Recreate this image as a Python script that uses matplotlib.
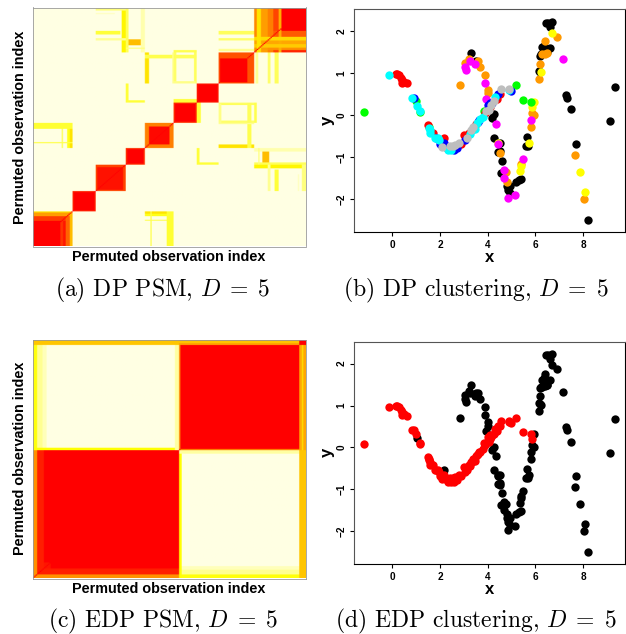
import numpy as np
import matplotlib
matplotlib.use("Agg")
import matplotlib.pyplot as plt
from matplotlib.colors import LinearSegmentedColormap

plt.rcParams['font.family'] = ['Liberation Sans', 'DejaVu Sans']
plt.rcParams['mathtext.fontset'] = 'cm'

N_OBS = 200

# PSM (a): diagonal blocks, their cores, then symmetric patches (i0, i1, j0, j1, value)
dp_blocks = [(29, 46, 0.93), (46, 68, 0.85), (68, 82, 0.9), (82, 103, 0.72),
             (103, 120, 0.9), (120, 136, 0.95), (136, 162, 0.82)]
dp_cores = [(30, 45, 1.0), (47, 66, 0.96), (69, 81, 1.0), (85, 100, 0.98),
            (104, 119, 1.0), (121, 135, 1.0), (137, 157, 1.0)]
dp_patches = [
    (27, 29, 82, 103, 0.42), (25, 27, 82, 103, 0.3), (21, 22, 82, 103, 0.2), (0, 29, 86, 87, 0.22),
    (0, 29, 98, 103, 0.26), (46, 64, 177, 180, 0.25), (65, 68, 162, 200, 0.36), (46, 68, 197, 200, 0.15),
    (46, 68, 172, 174, 0.12), (46, 60, 194, 195, 0.05),
    (68, 82, 168, 173, 0.55), (68, 70, 162, 200, 0.2), (79, 82, 162, 200, 0.08),
    (68, 82, 165, 166, 0.15), (68, 70, 120, 136, 0.25), (68, 82, 120, 122, 0.25),
    (82, 85, 136, 162, 0.42), (82, 103, 157, 160, 0.22), (102, 103, 136, 162, 0.12),
    (103, 105, 136, 162, 0.18), (118, 120, 136, 162, 0.22), (103, 120, 136, 138, 0.14),
    (119, 120, 136, 164, 0.18), (103, 120, 157, 160, 0.2), (103, 120, 162, 164, 0.22),
    (103, 120, 120, 123, 0.25), (136, 162, 172, 174, 0.18), (136, 162, 177, 180, 0.2),
    (136, 162, 163, 165, 0.12),
]
# block corners with stripes, value of a cell is the lower of its row and column band
corner_a_rows = [(0, 21, 1.0), (21, 25, 0.87), (25, 28, 0.65), (28, 29, 0.42)]
corner_a_cols = [(0, 20, 1.0), (20, 22, 0.88), (22, 24, 0.95), (24, 27, 0.78), (27, 29, 0.55)]
corner_b_rows = [(162, 164, 0.92), (164, 166, 0.68), (166, 169, 0.5), (169, 172, 0.62), (172, 175, 0.45),
                 (175, 180, 0.8), (180, 200, 1.0)]
corner_b_cols = [(162, 164, 0.7), (164, 167, 0.42), (167, 172, 0.65), (172, 176, 0.72), (176, 180, 0.85),
                 (180, 182, 0.6), (182, 200, 1.0)]

# PSM (c): two big blocks with edges
edp_blocks = [(0, 107, 1.0), (107, 200, 1.0)]
edp_patches = [
    (3, 10, 107, 196, 0.06), (3, 8, 0, 107, 0.93), (8, 13, 8, 13, 0.95),
    (0, 3, 0, 107, 0.68), (0, 3, 107, 195, 0.32), (3, 7, 109, 195, 0.12),
    (107, 109, 0, 107, 0.33), (107, 108, 108, 195, 0.72), (104, 107, 107, 195, 0.1),
    (195, 200, 0, 107, 0.52), (195, 197, 107, 195, 0.62), (197, 198, 107, 195, 0.45), (198, 200, 107, 195, 0.62),
]

# scatter points, one list per DP cluster colour
dp_black = [(3.3, 1.48), (3.5, 1.3), (4.2, -0.07), (4.25, 0.02), (4.28, -0.55), (4.5, -0.65), (4.45, -0.88),
            (4.5, -0.85), (4.6, -1.08), (4.55, -1.38), (4.8, -1.68), (4.85, -1.78), (4.95, -1.68), (4.95, -1.85),
            (5.2, -1.6), (5.3, -1.55), (5.4, -1.52), (5.6, -0.72), (5.65, -0.52), (5.7, -0.72), (6.15, 1.05),
            (6.2, 1.03), (6.2, 1.42), (6.25, 1.45), (6.3, 1.62), (6.35, 1.65), (6.5, 1.5), (6.6, 1.6), (6.45, 2.2),
            (6.55, 2.2), (6.6, 2.1), (6.7, 2.22), (7.3, 0.48), (7.32, 0.42), (7.5, 0.14), (7.7, -0.68), (8.2, -2.5),
            (9.15, -0.14), (9.35, 0.67)]
dp_orange = [(2.85, 0.71), (3.05, 1.25), (3.2, 1.35), (3.6, 1.3), (3.7, 1.15), (3.9, 0.97), (4.0, 0.6), (4.02, 0.52),
             (4.5, -0.9), (4.75, -1.35), (4.8, -1.6), (5.4, -1.15), (5.85, 0.05), (5.95, 0.0), (5.8, -0.27),
             (6.15, 0.87), (6.2, 1.23), (6.3, 1.45), (6.4, 1.47), (6.5, 1.48), (6.4, 1.76), (6.9, 1.87),
             (7.67, -0.95), (8.05, -2.0)]
dp_yellow = [(4.45, -0.65), (5.35, -1.33), (5.4, -1.2), (5.75, -0.65), (5.85, 0.2), (5.95, 0.32), (6.25, 1.02),
             (6.72, 1.97), (7.87, -1.36), (8.07, -1.82)]
dp_magenta = [(3.05, 1.15), (3.1, 1.08), (3.25, 1.3), (3.45, 1.22), (3.9, 0.77), (3.95, 0.4), (4.33, -0.2),
              (4.45, -0.68), (4.67, -1.3), (4.7, -1.5), (4.87, -1.97), (5.15, -1.89), (5.5, -1.05), (5.8, -0.12),
              (7.15, 1.33)]
dp_green = [(-1.2, 0.07), (5.2, 0.71), (5.5, 0.36), (5.8, 0.32), (1.0, 0.33), (1.18, 0.07), (1.55, -0.27), (3.85, 0.1)]
dp_red = [(0.15, 0.98), (0.2, 0.98), (0.28, 0.96), (0.35, 0.9), (0.4, 0.85), (0.42, 0.77), (0.5, 0.8), (0.6, 0.76),
          (1.5, -0.24), (2.18, -0.55), (3.0, -0.48), (2.9, -0.68), (4.4, 0.4), (2.2, -0.72), (1.7, -0.42), (2.3, -0.78),
          (3.1, -0.52), (3.2, -0.42), (3.5, -0.2), (3.9, 0.05), (4.1, 0.2), (4.35, 0.38), (4.5, 0.5)]
dp_blue = [(0.9, 0.42), (1.85, -0.55), (2.0, -0.68), (2.6, -0.82), (3.65, -0.12), (4.45, 0.5), (4.2, 0.3), (5.0, 0.58),
           (2.15, -0.65), (4.0, 0.25), (2.7, -0.78), (3.05, -0.58), (3.6, -0.15), (4.1, 0.3)]
dp_cyan = [(-0.15, 0.96), (0.83, 0.41), (1.05, 0.22), (1.15, 0.1), (1.55, -0.3), (1.58, -0.35), (1.6, -0.42),
           (1.8, -0.55), (1.9, -0.55), (1.95, -0.6), (2.35, -0.82), (2.45, -0.82), (3.35, -0.35), (3.45, -0.33),
           (3.55, -0.18), (3.7, -0.1), (3.8, -0.05), (4.3, 0.43), (4.9, 0.6), (3.25, -0.45)]
dp_gray = [(2.1, -0.75), (2.4, -0.73), (2.55, -0.73), (2.65, -0.7), (2.8, -0.66), (3.15, -0.55), (3.3, -0.35),
           (3.4, -0.27), (3.95, 0.1), (4.05, 0.13), (4.15, 0.25), (4.25, 0.33), (4.58, 0.62), (4.88, 0.63)]

dp_groups = [(dp_black, '#000000'), (dp_orange, '#FF9900'), (dp_yellow, '#FFFF00'), (dp_magenta, '#FF00FF'),
             (dp_green, '#00FF00'), (dp_red, '#FF0000'), (dp_blue, '#0000FF'), (dp_cyan, '#00FFFF'),
             (dp_gray, '#BEBEBE')]

# points that change side in the EDP partition
to_black = [(1.05, 0.22), (2.18, -0.55)]
to_red = [(5.85, 0.2)]
x_ticks = [0, 2, 4, 6, 8]
y_ticks = [-2, -1, 0, 1, 2]

heat = LinearSegmentedColormap.from_list('heat_r', ['#FFFFE3', '#FFFF00', '#FF9900', '#FF0000'])


def build_psm(blocks, cores, patches, corners=()):
    m = np.zeros((N_OBS, N_OBS))
    for a, b, v in blocks:
        m[a:b, a:b] = v
    for a, b, v in cores:
        m[a:b, a:b] = v
    for i0, i1, j0, j1, v in patches:
        m[i0:i1, j0:j1] = v
        m[j0:j1, i0:i1] = v
    for rows, cols in corners:
        for r0, r1, rv in rows:
            for c0, c1, cv in cols:
                m[r0:r1, c0:c1] = min(rv, cv)
    np.fill_diagonal(m, 1.0)
    return m


W, H = 626, 634
fig = plt.figure(figsize=(W / 100, H / 100), dpi=100)


def px_axes(x0, y0, x1, y1):
    return fig.add_axes([x0 / W, 1 - y1 / H, (x1 - x0) / W, (y1 - y0) / H])


def psm_panel(box, m, label_y, ylab_center):
    ax = px_axes(*box)
    ax.imshow(m, origin='lower', aspect='auto', cmap=heat, vmin=0, vmax=1, interpolation='bilinear')
    ax.set_xticks([])
    ax.set_yticks([])
    for s in ax.spines.values():
        s.set_linewidth(0.6)
        s.set_color('#999999')
    fig.text(169 / W, 1 - label_y / H, 'Permuted observation index', fontsize=10.4, fontweight='bold',
             ha='center', va='center')
    fig.text(20 / W, 1 - ylab_center / H, 'Permuted observation index', fontsize=10.4, fontweight='bold',
             ha='center', va='center', rotation=90)


def scatter_panel(box, groups):
    ax = px_axes(*box)
    for pts, col in groups:
        p = np.array(pts)
        ax.scatter(p[:, 0], p[:, 1], s=36, c=col, linewidths=0, zorder=3)
    ax.set_xlim(-1.608, 9.776)
    ax.set_ylim(-2.786, 2.524)
    ax.set_xticks(x_ticks)
    ax.set_yticks(y_ticks)
    ax.tick_params(length=3, width=0.8, pad=2.5, labelsize=7.2)
    for t in ax.get_xticklabels():
        t.set_fontweight('bold')
    for t in ax.get_yticklabels():
        t.set_fontweight('bold')
        t.set_rotation(90)
        t.set_va('center')
    ax.set_xlabel('x', fontsize=12, fontweight='bold', labelpad=0)
    ax.set_ylabel('y', fontsize=12, fontweight='bold', labelpad=1)
    for s in ax.spines.values():
        s.set_linewidth(0.8)
    ax.spines['left'].set_color('#555555')
    ax.spines['top'].set_color('#555555')
    return ax


def caption(x, y, txt):
    fig.text(x / W, 1 - y / H, txt, fontsize=17, family='cmr10', ha='center', va='center')


psm_panel((33, 7.5, 305.7, 246.5),
          build_psm(dp_blocks, dp_cores, dp_patches,
                    [(corner_a_rows, corner_a_cols), (corner_b_rows, corner_b_cols)]), 257, 127)
psm_panel((33, 339.7, 305.7, 578.5), build_psm(edp_blocks, [], edp_patches), 589, 458)

scatter_panel((354, 9.3, 625.3, 232.3), dp_groups)

edp_red = dp_green + dp_red + dp_blue + dp_cyan + dp_gray
edp_red = [p for p in edp_red if p not in to_black] + to_red
edp_black = dp_black + dp_orange + dp_yellow + dp_magenta + to_black
edp_black = [p for p in edp_black if p not in to_red]
scatter_panel((354, 341.7, 625.3, 564), [(edp_black, '#000000'), (edp_red, '#FF0000')])

caption(162.5, 290, r'(a) DP PSM, $D\;=\;5$')
caption(476, 290, r'(b) DP clustering, $D\;=\;5$')
caption(163, 621, r'(c) EDP PSM, $D\;=\;5$')
caption(476, 621, r'(d) EDP clustering, $D\;=\;5$')

fig.savefig('out.png', dpi=100)
